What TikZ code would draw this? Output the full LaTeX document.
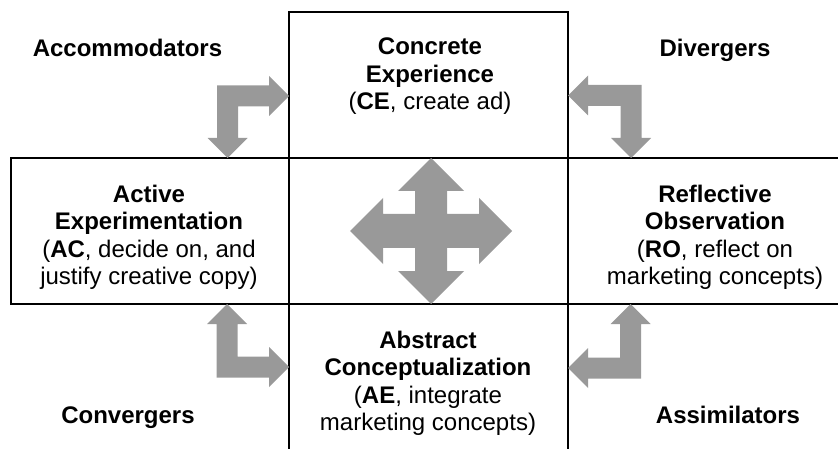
\documentclass[tikz,border=0pt]{standalone}
\usepackage{fontspec}
\setmainfont{Liberation Sans}
\definecolor{arrowgray}{RGB}{153,153,153}
\tikzset{
  gridline/.style={line width=1.8pt, black},
  arrowfill/.style={fill=arrowgray},
  % multi-line nodes: the base anchor sits on the last line
  boxtext/.style={align=center, inner sep=0pt, anchor=base,
    font=\fontsize{24}{27.5}\selectfont},
  grouplabel/.style={inner sep=0pt, anchor=base,
    font=\fontsize{24}{27.5}\selectfont\bfseries}
}
% bent double arrow: #1,#2 = bend centre, #3 = tip x of horizontal arm, #4 = tip y of vertical arm
\newcommand{\bentarrow}[4]{%
  \pgfmathsetmacro\sgx{sign(#3-#1)}%
  \pgfmathsetmacro\sgy{sign(#4-#2)}%
  \def\sh{10.5}\def\hw{20}\def\hl{20}%
  \fill[arrowfill]
    ({#1-\sgx*\sh},{#2-\sgy*\sh}) -- ({#3-\sgx*\hl},{#2-\sgy*\sh}) --
    ({#3-\sgx*\hl},{#2-\sgy*\hw}) -- ({#3},{#2}) --
    ({#3-\sgx*\hl},{#2+\sgy*\hw}) -- ({#3-\sgx*\hl},{#2+\sgy*\sh}) --
    ({#1+\sgx*\sh},{#2+\sgy*\sh}) -- ({#1+\sgx*\sh},{#4-\sgy*\hl}) --
    ({#1+\sgx*\hw},{#4-\sgy*\hl}) -- ({#1},{#4}) --
    ({#1-\sgx*\hw},{#4-\sgy*\hl}) -- ({#1-\sgx*\sh},{#4-\sgy*\hl}) -- cycle;%
}
\begin{document}
\begin{tikzpicture}[x=1pt, y=-1pt]
\useasboundingbox (0,0) rectangle (838,449);

% grid of the four stages
\draw[gridline] (289,449) -- (289,12) -- (568,12) -- (568,449);
\draw[gridline] (838,158) -- (11,158) -- (11,304) -- (838,304);

% four-way arrow in the middle
\fill[arrowfill]
  (431,158) -- (464,191) -- (447,191) -- (447,214) -- (479,214) -- (479,198)
  -- (512,231) -- (479,264) -- (479,248) -- (447,248) -- (447,271) -- (464,271)
  -- (431,304) -- (398,271) -- (415,271) -- (415,248) -- (383,248) -- (383,264)
  -- (350,231) -- (383,198) -- (383,214) -- (415,214) -- (415,191) -- (398,191)
  -- cycle;

% corner arrows
\bentarrow{227.5}{96}{289}{158}
\bentarrow{631}{95.5}{568}{158}
\bentarrow{227}{367}{289}{304}
\bentarrow{630.5}{368}{568}{304}

% stage texts
\node[boxtext] (ce) at (430,110) {\textbf{Concrete}\\\textbf{Experience}\\(\textbf{CE}, create ad)};
\node[boxtext] (ac) at (149,284.5) {\textbf{Active}\\\textbf{Experimentation}\\(\textbf{AC}, decide on, and\\justify creative copy)};
\node[boxtext] (ro) at (715,284.5) {\textbf{Reflective}\\\textbf{Observation}\\(\textbf{RO}, reflect on\\marketing concepts)};
\node[boxtext] (ae) at (428,430.5) {\textbf{Abstract}\\\textbf{Conceptualization}\\(\textbf{AE}, integrate\\marketing concepts)};

% learning styles
\node[grouplabel] (acc) at (127.5,57) {Accommodators};
\node[grouplabel] (div) at (715,57) {Divergers};
\node[grouplabel] (con) at (128,423) {Convergers};
\node[grouplabel] (ass) at (728,423) {Assimilators};
\end{tikzpicture}
\end{document}
